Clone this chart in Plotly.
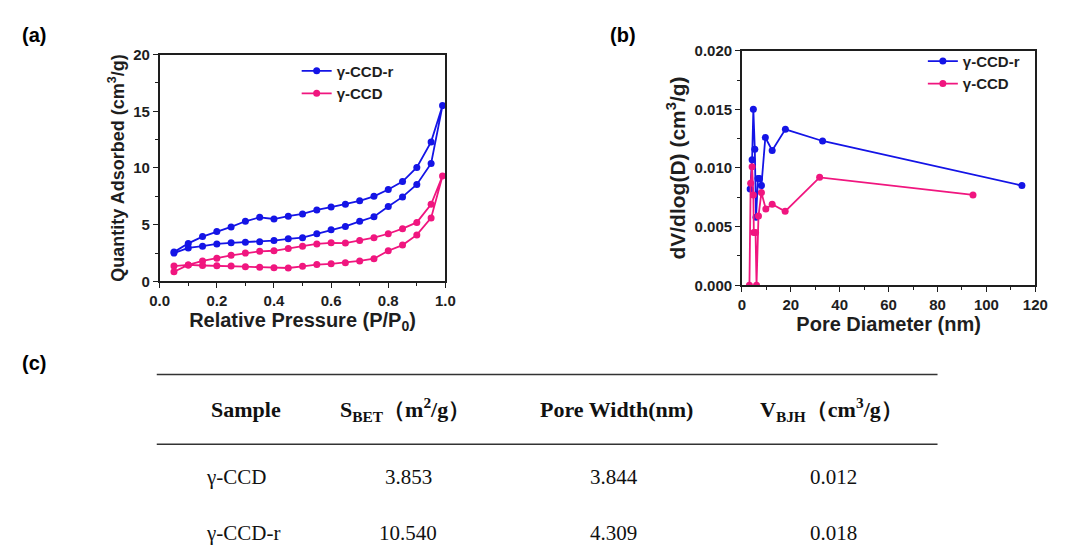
import plotly.graph_objects as go

# ---- (a) N2 adsorption-desorption isotherms ----
p_rel = [0.05, 0.10, 0.15, 0.20, 0.25, 0.30, 0.35, 0.40, 0.45, 0.50,
         0.55, 0.60, 0.65, 0.70, 0.75, 0.80, 0.85, 0.90, 0.95, 0.99]
ccd_r_ads = [2.50, 2.95, 3.10, 3.30, 3.40, 3.45, 3.50, 3.60, 3.75, 3.85,
             4.20, 4.55, 4.85, 5.30, 5.70, 6.60, 7.45, 8.55, 10.40, 15.50]
ccd_r_des = [2.60, 3.35, 3.95, 4.40, 4.80, 5.30, 5.65, 5.50, 5.75, 5.95,
             6.30, 6.55, 6.80, 7.10, 7.50, 8.10, 8.80, 10.05, 12.30, 15.50]
ccd_ads = [1.35, 1.45, 1.40, 1.38, 1.35, 1.30, 1.25, 1.20, 1.18, 1.33,
           1.48, 1.55, 1.65, 1.80, 2.00, 2.70, 3.20, 4.10, 5.60, 9.30]
ccd_des = [0.85, 1.45, 1.80, 2.05, 2.30, 2.50, 2.65, 2.70, 2.90, 3.10,
           3.30, 3.40, 3.38, 3.60, 3.85, 4.20, 4.65, 5.20, 6.80, 9.30]

# ---- (b) BJH pore size distribution ----
d_ccd_r = [3.4, 4.2, 4.7, 5.3, 5.8, 6.6, 7.2, 8.0, 9.6, 12.4, 17.8, 33.0, 114.5]
dv_ccd_r = [0.0082, 0.0107, 0.0150, 0.0116, 0.0058, 0.0091, 0.0091, 0.0085,
            0.0126, 0.0115, 0.0133, 0.0123, 0.0085]
d_ccd = [3.1, 3.6, 4.2, 4.7, 4.9, 5.6, 6.0, 6.8, 8.0, 9.8, 12.4, 17.7, 31.8, 94.5]
dv_ccd = [0.0, 0.0087, 0.0101, 0.0077, 0.0045, 0.0045, 0.0, 0.0059, 0.0079,
          0.0065, 0.0069, 0.0063, 0.0092, 0.0077]

# ---- (c) textural parameters ----
table_header = ["Sample", "S<sub>BET</sub>\uff08m<sup>2</sup>/g\uff09",
                "Pore Width(nm)", "V<sub>BJH</sub>\uff08cm<sup>3</sup>/g\uff09"]
samples = ["\u03b3-CCD", "\u03b3-CCD-r"]
s_bet = ["3.853", "10.540"]
pore_width = ["3.844", "4.309"]
v_bjh = ["0.012", "0.018"]

BLUE = "#1414e6"
PINK = "#f0167f"
INK = "#1e1e1e"
SANS = "Liberation Sans, Arial, sans-serif"
SERIF = "Liberation Serif, Times New Roman, serif"

W, H = 1065, 555


def px(x):
    return x / W


def py(y):
    return 1 - y / H


fig = go.Figure()

line_style = dict(width=1.8)
marker_style = dict(size=7, symbol="circle")

# isotherm loops: adsorption up, desorption back down
fig.add_trace(go.Scatter(
    x=p_rel + p_rel[::-1][1:], y=ccd_r_ads + ccd_r_des[::-1][1:],
    mode="lines+markers", name="\u03b3-CCD-r",
    line=dict(color=BLUE, **line_style), marker=dict(color=BLUE, **marker_style),
    xaxis="x", yaxis="y", legend="legend"))
fig.add_trace(go.Scatter(
    x=p_rel + p_rel[::-1][1:], y=ccd_ads + ccd_des[::-1][1:],
    mode="lines+markers", name="\u03b3-CCD",
    line=dict(color=PINK, **line_style), marker=dict(color=PINK, **marker_style),
    xaxis="x", yaxis="y", legend="legend"))

fig.add_trace(go.Scatter(
    x=d_ccd_r, y=dv_ccd_r, mode="lines+markers", name="\u03b3-CCD-r",
    line=dict(color=BLUE, **line_style), marker=dict(color=BLUE, **marker_style),
    xaxis="x2", yaxis="y2", legend="legend2"))
fig.add_trace(go.Scatter(
    x=d_ccd, y=dv_ccd, mode="lines+markers", name="\u03b3-CCD",
    line=dict(color=PINK, **line_style), marker=dict(color=PINK, **marker_style),
    xaxis="x2", yaxis="y2", legend="legend2"))

tick_font = dict(family=SANS, size=15, color=INK, weight="bold")


def title_font(size):
    return dict(family=SANS, size=size, color=INK)


axis_common = dict(
    showline=True, linecolor=INK, linewidth=1.5, mirror=True,
    ticks="outside", ticklen=5, tickwidth=1.3, tickcolor=INK,
    showgrid=False, zeroline=False, tickfont=tick_font,
)
minor_common = dict(ticks="outside", ticklen=3, tickcolor=INK)
legend_font = dict(family=SANS, size=15, color=INK, weight="bold")

fig.update_layout(
    width=W, height=H,
    margin=dict(l=0, r=0, t=0, b=0),
    paper_bgcolor="white", plot_bgcolor="white",
    xaxis=dict(domain=[px(153), px(445)], range=[0, 1.0], dtick=0.2,
               tickformat=".1f", anchor="y",
               minor=dict(dtick=0.1, **minor_common),
               title=dict(text="<b>Relative Pressure (P/P<sub>0</sub>)</b>",
                          font=title_font(20), standoff=2),
               **axis_common),
    yaxis=dict(domain=[py(281), py(47)], range=[0, 20], dtick=5, anchor="x",
               minor=dict(dtick=2.5, **minor_common),
               title=dict(text="<b>Quantity Adsorbed (cm<sup>3</sup>/g)</b>",
                          font=title_font(18), standoff=4),
               **axis_common),
    xaxis2=dict(domain=[px(748), px(1048)], range=[0, 120], dtick=20, anchor="y2",
                minor=dict(dtick=10, **minor_common),
                title=dict(text="<b>Pore Diameter (nm)</b>", font=title_font(20), standoff=2),
                **axis_common),
    yaxis2=dict(domain=[py(285), py(43)], range=[0, 0.020], dtick=0.005,
                tickformat=".3f", anchor="x2",
                minor=dict(dtick=0.0025, **minor_common),
                title=dict(text="<b>dV/dlog(D) (cm<sup>3</sup>/g)</b>",
                           font=title_font(21), standoff=3),
                **axis_common),
    legend=dict(x=px(293), y=py(47), xanchor="left", yanchor="top",
                bgcolor="rgba(0,0,0,0)", font=legend_font,
                tracegroupgap=0, itemwidth=30),
    legend2=dict(x=px(933), y=py(37), xanchor="left", yanchor="top",
                 bgcolor="rgba(0,0,0,0)", font=legend_font,
                 tracegroupgap=0, itemwidth=30),
    showlegend=True,
)


def put_text(text, x, y, font, xanchor="center"):
    fig.add_annotation(text=text, x=px(x), y=py(y), xref="paper", yref="paper",
                       xanchor=xanchor, yanchor="middle", showarrow=False, font=font)


# panel letters
for letter, x, y in [("(a)", 25, 27), ("(b)", 627, 27), ("(c)", 25, 365)]:
    put_text(f"<b>{letter}</b>", x, y, dict(family=SANS, size=20, color="black"))

# table rules
for y in (377, 449):
    fig.add_shape(type="line", xref="paper", yref="paper",
                  x0=px(150), x1=px(948), y0=py(y), y1=py(y),
                  line=dict(color="#333333", width=1.5))

# table header
header_font = dict(family=SERIF, size=22, color="#111111")
body_font = dict(family=SERIF, size=21, color="#111111")
col_centers = [241, 404, 620, 840]
for text, cx in zip(table_header, col_centers):
    put_text(f"<b>{text}</b>", cx, 413, header_font)

# table body
row_ys = [483, 541]
for i, ry in enumerate(row_ys):
    put_text(samples[i], 198, ry, body_font, xanchor="left")
    for vals, cx in zip((s_bet, pore_width, v_bjh), (407, 617, 842)):
        put_text(vals[i], cx, ry, body_font)

fig.write_html("out.html")
